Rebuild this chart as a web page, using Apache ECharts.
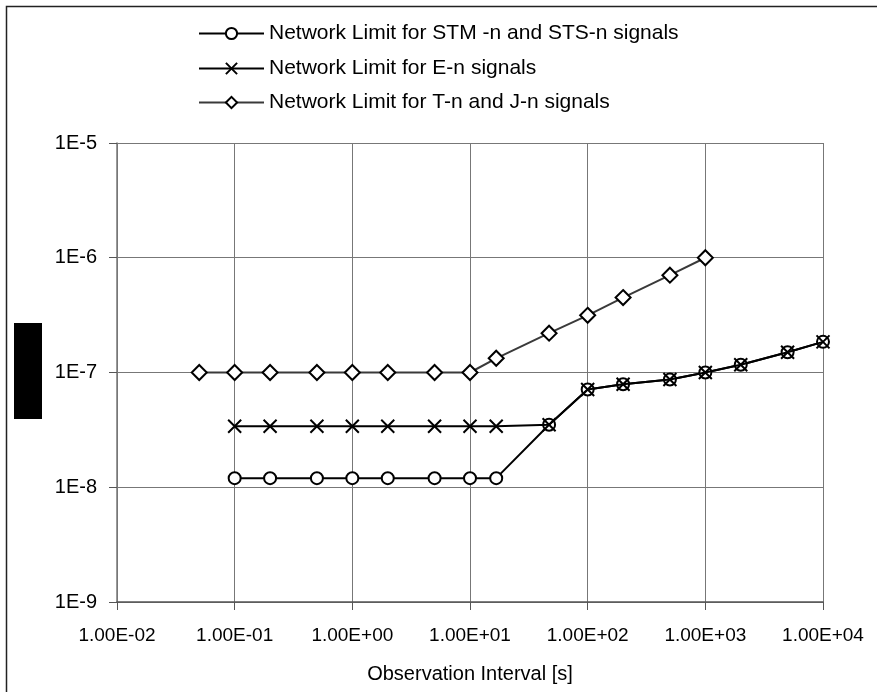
<!DOCTYPE html>
<html>
<head>
<meta charset="utf-8">
<script src="https://cdn.jsdelivr.net/npm/echarts@6/dist/echarts.min.js"></script>
<style>
html,body{margin:0;padding:0;background:#fff;}
#c{width:877px;height:692px;}
</style>
</head>
<body>
<div id="c"></div>
<script>
// Data
const stmX = [0.1, 0.2, 0.5, 1, 2, 5, 10, 16.7, 47, 100, 200, 500, 1000, 2000, 5000, 10000];
const stmY = [1.2e-8, 1.2e-8, 1.2e-8, 1.2e-8, 1.2e-8, 1.2e-8, 1.2e-8, 1.2e-8, 3.5e-8, 7.1e-8, 7.9e-8, 8.7e-8, 1.0e-7, 1.17e-7, 1.5e-7, 1.85e-7];
const enX = [0.1, 0.2, 0.5, 1, 2, 5, 10, 16.7, 47, 100, 200, 500, 1000, 2000, 5000, 10000];
const enY = [3.4e-8, 3.4e-8, 3.4e-8, 3.4e-8, 3.4e-8, 3.4e-8, 3.4e-8, 3.4e-8, 3.5e-8, 7.1e-8, 7.9e-8, 8.7e-8, 1.0e-7, 1.17e-7, 1.5e-7, 1.85e-7];
const tjX = [0.05, 0.1, 0.2, 0.5, 1, 2, 5, 10, 16.7, 47, 100, 200, 500, 1000];
const tjY = [1e-7, 1e-7, 1e-7, 1e-7, 1e-7, 1e-7, 1e-7, 1e-7, 1.33e-7, 2.2e-7, 3.15e-7, 4.5e-7, 7.05e-7, 1e-6];
const seriesNames = ['Network Limit for STM -n and STS-n signals', 'Network Limit for E-n signals', 'Network Limit for T-n and J-n signals'];
const xAxisName = 'Observation Interval [s]';

function zip(xs, ys){ return xs.map((x,i)=>[x, ys[i]]); }
function fmtX(v){
  const e = Math.round(Math.log10(v));
  const sign = e < 0 ? '-' : '+';
  const a = Math.abs(e);
  return '1.00E' + sign + (a < 10 ? '0' + a : '' + a);
}
function fmtY(v){
  const e = Math.round(Math.log10(v));
  return '1E' + e;
}

const FONT = 'Liberation Sans, Arial, sans-serif';
const chart = echarts.init(document.getElementById('c'), null, {renderer:'canvas'});

const xPath = 'path://M0,0L10,10M10,0L0,10';

const legendBase = {
  orient: 'horizontal',
  left: 193,
  itemWidth: 65,
  itemHeight: 14,
  itemGap: 4,
  textStyle: {fontFamily: FONT, fontSize: 21, color: '#000'},
  selectedMode: false
};

chart.setOption({
  backgroundColor: '#fff',
  animation: false,
  legend: [
    Object.assign({}, legendBase, {top: 18, data: [seriesNames[0]]}),
    Object.assign({}, legendBase, {top: 53, data: [seriesNames[1]]}),
    Object.assign({}, legendBase, {top: 87, data: [seriesNames[2]]})
  ],
  grid: {left: 117, right: 54, top: 143, bottom: 90, containLabel: false},
  xAxis: {
    type: 'log', logBase: 10, min: 0.01, max: 10000,
    name: xAxisName, nameLocation: 'middle', nameGap: 62,
    nameTextStyle: {fontFamily: FONT, fontSize: 20, color: '#000'},
    axisLine: {show: true, lineStyle: {color: '#555', width: 1.5}},
    axisTick: {show: true, inside: false, length: 8, lineStyle: {color: '#555'}},
    axisLabel: {formatter: fmtX, fontFamily: FONT, fontSize: 19, color: '#000', margin: 24},
    splitLine: {show: true, lineStyle: {color: '#777', width: 1}},
    minorTick: {show: false}
  },
  yAxis: {
    type: 'log', logBase: 10, min: 1e-9, max: 1e-5,
    axisLine: {show: true, onZero: false, lineStyle: {color: '#777', width: 1.5}},
    axisTick: {show: true, length: 8, lineStyle: {color: '#555'}},
    axisLabel: {formatter: fmtY, fontFamily: FONT, fontSize: 20, color: '#000', margin: 20},
    splitLine: {show: true, lineStyle: {color: '#777', width: 1}}
  },
  series: [
    {
      name: seriesNames[0], type: 'line', data: zip(stmX, stmY),
      symbol: 'circle', symbolSize: 12,
      lineStyle: {color: '#000', width: 2},
      itemStyle: {color: '#fff', borderColor: '#000', borderWidth: 2},
      z: 3
    },
    {
      name: seriesNames[1], type: 'line', data: zip(enX, enY),
      symbol: xPath, symbolSize: 13,
      lineStyle: {color: '#000', width: 2},
      itemStyle: {color: 'none', borderColor: '#000', borderWidth: 2},
      z: 4
    },
    {
      name: seriesNames[2], type: 'line', data: zip(tjX, tjY),
      symbol: 'diamond', symbolSize: [15, 15],
      lineStyle: {color: '#3a3a3a', width: 2},
      itemStyle: {color: '#fff', borderColor: '#000', borderWidth: 2},
      z: 3
    }
  ],
  graphic: [
    {type: 'rect', shape: {x: 6.5, y: 6.5, width: 900, height: 720}, style: {fill: 'none', stroke: '#222', lineWidth: 1.5}, silent: true},
    {type: 'rect', shape: {x: 14, y: 323, width: 28, height: 96}, style: {fill: '#000'}, silent: true}
  ]
});
</script>
</body>
</html>
